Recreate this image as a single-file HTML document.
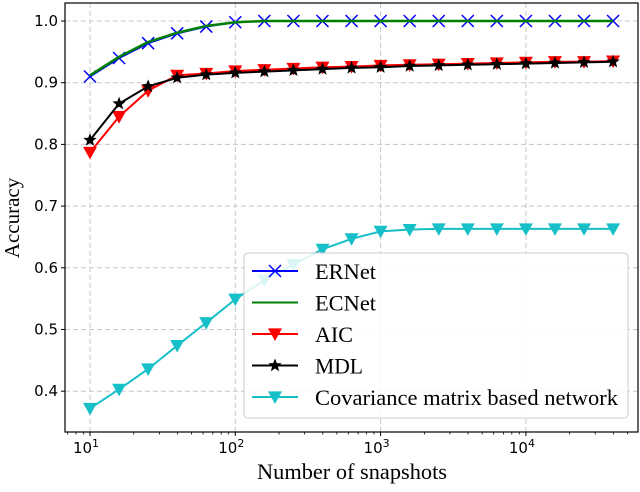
<!DOCTYPE html>
<html><head><meta charset="utf-8"><style>
body{margin:0;background:#fff;}
svg text{font-family:"DejaVu Sans",sans-serif;}
.serif{font-family:"Liberation Serif",serif !important;}
</style></head><body>
<svg id="chart" width="640" height="487" viewBox="0 0 640 487" xmlns="http://www.w3.org/2000/svg">
<g id="grid"></g>
<g id="axes"></g>
<g id="series"></g>
<g id="legend"></g>
</svg>
<script>
const snapshots = [10,15.85,25.12,39.81,63.1,100,158.5,251.2,398.1,631,1000,1585,2512,3981,6310,10000,15849,25119,39811];
const ernet = [0.91,0.94,0.964,0.98,0.991,0.998,1,1,1,1,1,1,1,1,1,1,1,1,1];
const ecnet = [0.912,0.942,0.966,0.981,0.992,0.998,1,1,1,1,1,1,1,1,1,1,1,1,1];
const aic = [0.787,0.845,0.887,0.912,0.915,0.919,0.921,0.923,0.925,0.926,0.928,0.929,0.930,0.931,0.932,0.933,0.934,0.934,0.935];
const mdl = [0.807,0.866,0.894,0.908,0.913,0.916,0.918,0.920,0.922,0.924,0.925,0.927,0.928,0.929,0.930,0.931,0.932,0.933,0.934];
const cov = [0.372,0.403,0.436,0.474,0.511,0.549,0.58,0.605,0.63,0.647,0.659,0.662,0.663,0.663,0.663,0.663,0.663,0.663,0.663];
const yTicks = [0.4,0.5,0.6,0.7,0.8,0.9,1.0];
const yTickLabels = ["0.4","0.5","0.6","0.7","0.8","0.9","1.0"];
const xTicks = [1,2,3,4];

const L=65,R=638,T=3,B=432;
const xs = v => 90 + (Math.log10(v)-1)*145.3;
const xl = lg => 90 + (lg-1)*145.3;
const ys = v => 21 + (1.0-v)*617;
const NS="http://www.w3.org/2000/svg";
function mk(tag, attrs, parent){const e=document.createElementNS(NS,tag);for(const k in attrs)e.setAttribute(k,attrs[k]);parent.appendChild(e);return e;}
const grid=document.getElementById('grid'), axes=document.getElementById('axes'), ser=document.getElementById('series'), leg=document.getElementById('legend');

yTicks.forEach((t,i)=>{
  const y=ys(t);
  const g=mk('line',{x1:L,x2:R,y1:y,y2:y,stroke:'#c8c8c8','stroke-dasharray':'5,3','stroke-width':1},grid);
  
  
  mk('line',{x1:L-4,x2:L,y1:y,y2:y,stroke:'#000'},axes);
  const tx=mk('text',{x:L-7,y:y+5,'text-anchor':'end','font-size':15},axes);
  tx.textContent=yTickLabels[i];
  
  
});
xTicks.forEach(p=>{
  const x=xl(p);
  const g=mk('line',{x1:x,x2:x,y1:T,y2:B,stroke:'#c8c8c8','stroke-dasharray':'5,3','stroke-width':1},grid);
  
  
  mk('line',{x1:x,x2:x,y1:B,y2:B+4,stroke:'#000'},axes);
  const tx=mk('text',{x:x-4,y:B+21,'text-anchor':'middle','font-size':15},axes);
  tx.textContent='10';
  const sp=mk('tspan',{dy:-6,'font-size':11},tx);sp.textContent=String(p);
  
  
});
for(let d=0;d<5;d++){for(let m=2;m<10;m++){const lg=d+Math.log10(m);const x=xl(lg);if(x>L&&x<R)mk('line',{x1:x,x2:x,y1:B,y2:B+2.5,stroke:'#000','stroke-width':0.8},axes);}}
const frame=mk('rect',{x:L,y:T,width:R-L,height:B-T,fill:'none',stroke:'#000','stroke-width':1.2},axes);


const xt=mk('text',{x:257,y:479,'font-size':22,class:'serif',textLength:190,lengthAdjust:'spacingAndGlyphs'},axes);
xt.textContent='Number of snapshots';


const yt=mk('text',{x:0,y:0,'text-anchor':'middle','font-size':21,class:'serif',transform:'translate(19,218) rotate(-90)'},axes);
yt.textContent='Accuracy';



function marker(type,x,y,color,parent){
  if(type==='x'){const s=6;mk('path',{d:`M${x-s},${y-s}L${x+s},${y+s}M${x-s},${y+s}L${x+s},${y-s}`,stroke:color,'stroke-width':1.5,fill:'none'},parent);}
  else if(type==='v'){const s=7;mk('path',{d:`M${x-s},${y-s*0.8}L${x+s},${y-s*0.8}L${x},${y+s}Z`,fill:color},parent);}
  else if(type==='star'){let d='';for(let i=0;i<10;i++){const r=i%2?3:7;const a=-Math.PI/2+i*Math.PI/5;d+=(i?'L':'M')+(x+r*Math.cos(a)).toFixed(1)+','+(y+r*Math.sin(a)).toFixed(1);}mk('path',{d:d+'Z',fill:color},parent);}
}
function drawSeries(vals,color,mtype,name,width){
  const g=mk('g',{},ser);
  
  
  mk('polyline',{points:vals.map((v,i)=>xs(snapshots[i])+','+ys(v)).join(' '),fill:'none',stroke:color,'stroke-width':width},g);
  if(mtype)vals.forEach((v,i)=>marker(mtype,xs(snapshots[i]),ys(v),color,g));
}
drawSeries(cov,'#17c0c8','v','series-covariance',2);
drawSeries(ernet,'#0000ff','x','series-ernet',2);
drawSeries(ecnet,'#008000',null,'series-ecnet',2.5);
drawSeries(aic,'#ff0000','v','series-aic',2);
drawSeries(mdl,'#000000','star','series-mdl',2);

const lb=mk('rect',{x:244,y:253,width:384,height:165,rx:4,fill:'#fff','fill-opacity':0.85,stroke:'#ccc'},leg);


const entries=[['ERNet','#0000ff','x',61],['ECNet','#008000',null,61],['AIC','#ff0000','v',38],['MDL','#000000','star',48],['Covariance matrix based network','#17c0c8','v',303]];
entries.forEach((e,i)=>{
  const y=271+i*31.5;
  const g=mk('g',{},leg);
  
  
  mk('line',{x1:252,x2:298,y1:y,y2:y,stroke:e[1],'stroke-width':2},g);
  if(e[2])marker(e[2],275,y,e[1],g);
  const t=mk('text',{x:315,y:y+8,'font-size':22,class:'serif',textLength:e[3],lengthAdjust:'spacingAndGlyphs'},g);
  t.textContent=e[0];
});
</script>
</body></html>
